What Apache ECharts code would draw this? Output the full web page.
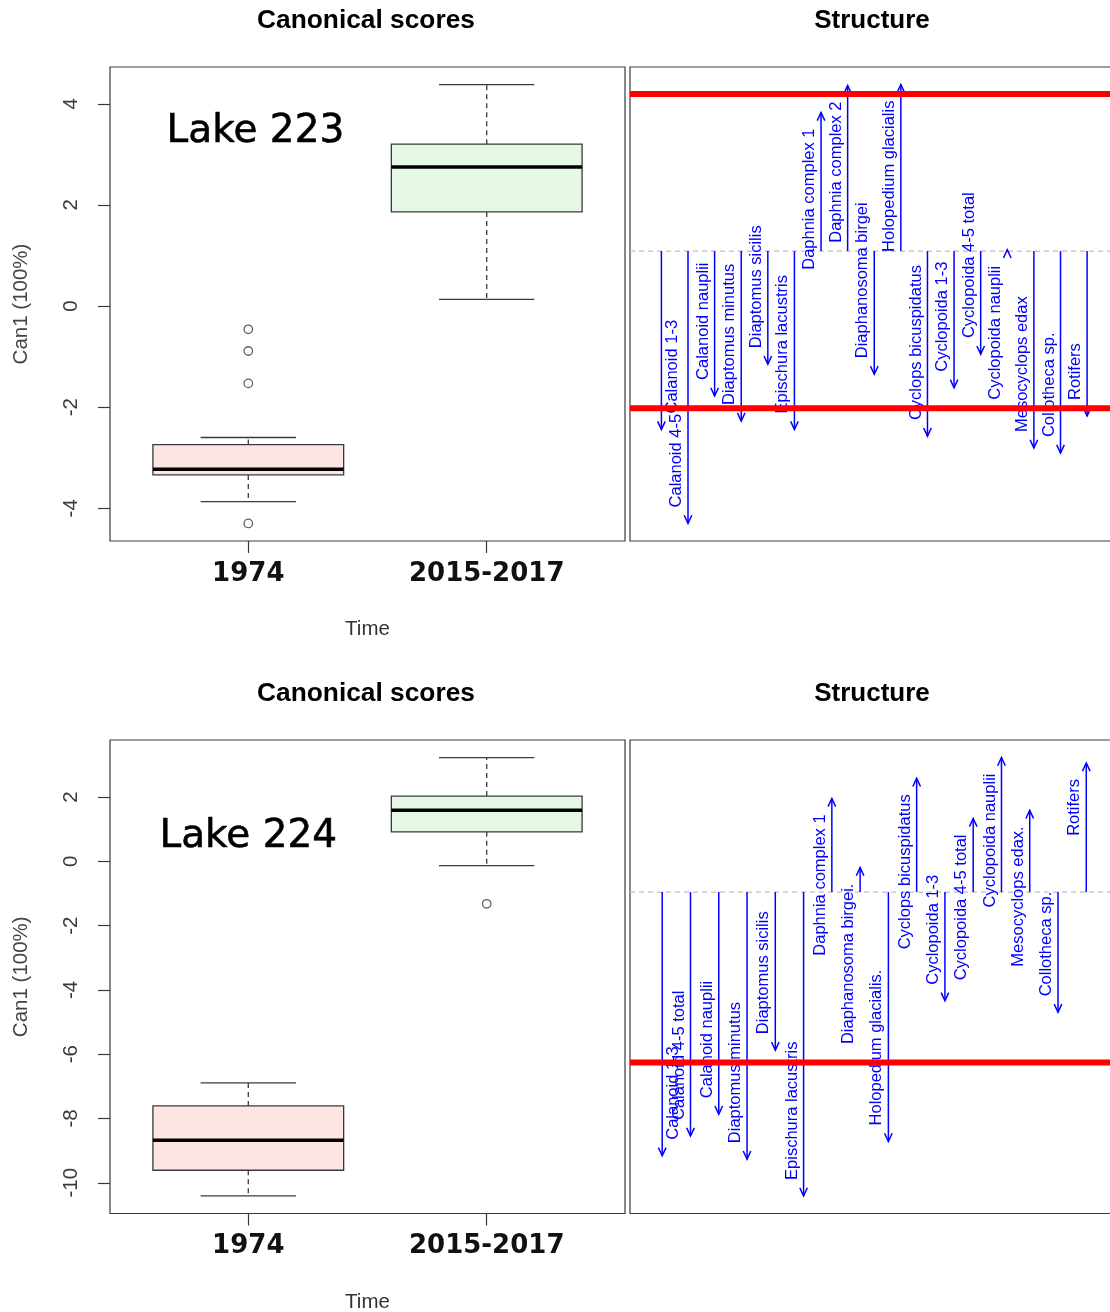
<!DOCTYPE html>
<html>
<head>
<meta charset="utf-8">
<script src="https://cdn.jsdelivr.net/npm/echarts@6/dist/echarts.min.js"></script>
<style>
html,body{margin:0;padding:0;background:#ffffff;}
#chart{width:1110px;height:1312px;}
</style>
</head>
<body>
<div id="chart"></div>
<script>
// ---------------- data ----------------
const groups = ['1974', '2015-2017'];

// Lake 223 canonical scores: [lower whisker, Q1, median, Q3, upper whisker]
const lake223Box = [
  [-3.87, -3.34, -3.23, -2.74, -2.60],
  [0.13, 1.86, 2.75, 3.20, 4.38]
];
const lake223Outliers = [[1, -0.46], [1, -0.89], [1, -1.53], [1, -4.30]];
const lake223Ticks = [-4, -2, 0, 2, 4];

// Lake 224 canonical scores
const lake224Box = [
  [-10.41, -9.61, -8.68, -7.61, -6.89],
  [-0.13, 0.92, 1.59, 2.03, 3.23]
];
const lake224Outliers = [[2, -1.32]];
const lake224Ticks = [-10, -8, -6, -4, -2, 0, 2];

// Structure coefficients
const lake223Taxa = ['Calanoid 1-3', 'Calanoid 4-5', 'Calanoid nauplii', 'Diaptomus minutus',
  'Diaptomus sicilis', 'Epischura lacustris', 'Daphnia complex 1', 'Daphnia complex 2',
  'Diaphanosoma birgei', 'Holopedium glacialis', 'Cyclops bicuspidatus', 'Cyclopoida 1-3',
  'Cyclopoida 4-5 total', 'Cyclopoida nauplii', 'Mesocyclops edax', 'Collotheca sp.', 'Rotifers'];
const lake223Structure = [-0.568, -0.867, -0.461, -0.541, -0.360, -0.568, 0.441, 0.527,
  -0.392, 0.530, -0.589, -0.435, -0.328, 0.004, -0.627, -0.643, -0.525];

const lake224Taxa = ['Calanoid 1-3', 'Calanoid 4-5 total', 'Calanoid nauplii', 'Diaptomus minutus',
  'Diaptomus sicilis', 'Epischura lacustris', 'Daphnia complex 1', 'Diaphanosoma birgei.',
  'Holopedium glacialis.', 'Cyclops bicuspidatus', 'Cyclopoida 1-3', 'Cyclopoida 4-5 total',
  'Cyclopoida nauplii', 'Mesocyclops edax.', 'Collotheca sp.', 'Rotifers'];
const lake224Structure = [-0.774, -0.716, -0.652, -0.784, -0.464, -0.892, 0.275, 0.072,
  -0.732, 0.334, -0.319, 0.216, 0.395, 0.240, -0.353, 0.379];

const thresholds = [-0.5, 0.5];

// ---------------- helpers ----------------
function rRange(vals) {
  const lo = Math.min(...vals), hi = Math.max(...vals);
  const d = (hi - lo) * 0.04;
  return [lo - d, hi + d];
}
const boxFills = ['#FFE4E4', '#E4F8E4'];
const SANS = 'Liberation Sans';

function boxRender(fills) {
  return function (params, api) {
    const x = api.value(0);
    const lo = api.value(1), q1 = api.value(2), med = api.value(3), q3 = api.value(4), hi = api.value(5);
    const c = (xx, yy) => api.coord([xx, yy]);
    const wl = c(x, lo), wq1 = c(x, q1), wq3 = c(x, q3), wh = c(x, hi);
    const capL1 = c(x - 0.2, lo), capR1 = c(x + 0.2, lo);
    const capL2 = c(x - 0.2, hi), capR2 = c(x + 0.2, hi);
    const bTL = c(x - 0.4, q3), bBR = c(x + 0.4, q1);
    const mL = c(x - 0.4, med), mR = c(x + 0.4, med);
    const stroke = '#3a3a3a';
    return {
      type: 'group',
      children: [
        { type: 'line', shape: { x1: wq1[0], y1: wq1[1], x2: wl[0], y2: wl[1] },
          style: { stroke, lineWidth: 1.3, lineDash: [5, 4] } },
        { type: 'line', shape: { x1: wq3[0], y1: wq3[1], x2: wh[0], y2: wh[1] },
          style: { stroke, lineWidth: 1.3, lineDash: [5, 4] } },
        { type: 'line', shape: { x1: capL1[0], y1: capL1[1], x2: capR1[0], y2: capR1[1] },
          style: { stroke, lineWidth: 1.3 } },
        { type: 'line', shape: { x1: capL2[0], y1: capL2[1], x2: capR2[0], y2: capR2[1] },
          style: { stroke, lineWidth: 1.3 } },
        { type: 'rect', shape: { x: bTL[0], y: bTL[1], width: bBR[0] - bTL[0], height: bBR[1] - bTL[1] },
          style: { fill: fills[params.dataIndex], stroke, lineWidth: 1.3 } },
        { type: 'line', shape: { x1: mL[0], y1: mL[1], x2: mR[0], y2: mR[1] },
          style: { stroke: '#000', lineWidth: 3.5 } }
      ]
    };
  };
}

function arrowRender(labels) {
  return function (params, api) {
    const i = params.dataIndex;
    const xv = api.value(0), v = api.value(1);
    const p0 = api.coord([xv, 0]), p1 = api.coord([xv, v]);
    const dir = p1[1] < p0[1] ? -1 : 1; // -1 = pointing up
    const L = 9, a = 25 * Math.PI / 180;
    const hx = L * Math.sin(a), hy = L * Math.cos(a);
    const head = [[p1[0] - hx, p1[1] - dir * hy], [p1[0], p1[1]], [p1[0] + hx, p1[1] - dir * hy]];
    const up = dir < 0;
    const tx = i === 0 ? p1[0] + 20 : p1[0] - 3;
    const ty = p1[1] - dir * 16;
    return {
      type: 'group',
      children: [
        { type: 'line', shape: { x1: p0[0], y1: p0[1], x2: p1[0], y2: p1[1] },
          style: { stroke: '#0000FF', lineWidth: 1.5 } },
        { type: 'polyline', shape: { points: head },
          style: { stroke: '#0000FF', lineWidth: 1.5, fill: 'none' } },
        { type: 'text', x: tx, y: ty, rotation: Math.PI / 2,
          style: { text: labels[i], fill: '#0000FF', fontSize: 16.5, fontFamily: SANS,
                   align: up ? 'right' : 'left', verticalAlign: 'bottom',
                   textAlign: up ? 'right' : 'left', textVerticalAlign: 'bottom' } }
      ]
    };
  };
}

function hlineRender(xr, style) {
  return function (params, api) {
    const v = api.value(1);
    const a = api.coord([xr[0], v]), b = api.coord([xr[1], v]);
    return { type: 'line', shape: { x1: a[0], y1: a[1], x2: b[0], y2: b[1] }, style };
  };
}

// ---------------- layout ----------------
const panels = [
  { top: 67, height: 474, box: lake223Box, out: lake223Outliers, ticks: lake223Ticks, lake: 'Lake 223', lakePos: [1.03, 3.44],
    taxa: lake223Taxa, vals: lake223Structure },
  { top: 740, height: 473.5, box: lake224Box, out: lake224Outliers, ticks: lake224Ticks, lake: 'Lake 224', lakePos: [1.0, 0.76],
    taxa: lake224Taxa, vals: lake224Structure }
];

const grid = [], xAxis = [], yAxis = [], series = [], title = [];
const boxXR = [0.5 - 0.08, 2.5 + 0.08];

panels.forEach((p, k) => {
  const gL = 2 * k, gR = 2 * k + 1;
  grid.push({ left: 110, top: p.top, width: 515, height: p.height, show: true,
    borderColor: '#3a3a3a', borderWidth: 1.2, backgroundColor: 'transparent',
    containLabel: false, outerBoundsMode: 'none' });
  grid.push({ left: 630, top: p.top, width: 488.5, height: p.height, show: true,
    borderColor: '#3a3a3a', borderWidth: 1.2, backgroundColor: 'transparent',
    containLabel: false, outerBoundsMode: 'none' });

  title.push({ text: 'Canonical scores', left: 361, top: 3 + 673 * k, textAlign: 'center',
    textStyle: { fontFamily: SANS, fontWeight: 'bold', fontSize: 26.3, color: '#000' } });
  title.push({ text: 'Structure', left: 867, top: 3 + 673 * k, textAlign: 'center',
    textStyle: { fontFamily: SANS, fontWeight: 'bold', fontSize: 26, color: '#000' } });

  // box plot y range
  const allY = [];
  p.box.forEach(b => allY.push(b[0], b[4]));
  p.out.forEach(o => allY.push(o[1]));
  const yr = rRange(allY);

  xAxis.push({ type: 'value', gridIndex: gL, min: boxXR[0], max: boxXR[1],
    axisLine: { show: false, onZero: false }, splitLine: { show: false },
    axisTick: { show: true, length: 12, customValues: [1, 2], lineStyle: { color: '#3a3a3a', width: 1.2 } },
    axisLabel: { show: true, customValues: [1, 2], formatter: v => groups[Math.round(v) - 1],
      fontFamily: 'DejaVu Sans', fontWeight: 'bold', fontSize: 26, color: '#111', margin: 20 },
    name: 'Time', nameLocation: 'middle', nameGap: 78,
    nameTextStyle: { fontFamily: SANS, fontSize: 20.5, color: '#333' } });
  yAxis.push({ type: 'value', gridIndex: gL, min: yr[0], max: yr[1],
    axisLine: { show: false, onZero: false }, splitLine: { show: false },
    axisTick: { show: true, length: 12, customValues: p.ticks, lineStyle: { color: '#3a3a3a', width: 1.2 } },
    axisLabel: { show: true, customValues: p.ticks, rotate: 90, fontFamily: SANS, fontSize: 20.5,
      color: '#3a3a3a', margin: 28 },
    name: 'Can1 (100%)', nameLocation: 'middle', nameGap: 78, nameRotate: 90,
    nameTextStyle: { fontFamily: SANS, fontSize: 20.5, color: '#444' } });

  // structure ranges
  const n = p.vals.length;
  const sxr = [0.5 - 0.04 * n, n + 0.5 + 0.04 * n];
  const syr = rRange([0, ...p.vals]);
  xAxis.push({ type: 'value', gridIndex: gR, min: sxr[0], max: sxr[1], show: false,
    axisLine: { onZero: false } });
  yAxis.push({ type: 'value', gridIndex: gR, min: syr[0], max: syr[1], show: false,
    axisLine: { onZero: false } });

  series.push({ type: 'custom', xAxisIndex: gL, yAxisIndex: gL, silent: true, z: 2,
    encode: { x: 0, y: [1, 2, 3, 4, 5] },
    data: p.box.map((b, i) => [i + 1, ...b]), renderItem: boxRender(boxFills) });
  series.push({ type: 'scatter', xAxisIndex: gL, yAxisIndex: gL, silent: true, z: 3,
    symbol: 'circle', symbolSize: 8.5,
    itemStyle: { color: 'rgba(255,255,255,0)', borderColor: '#3a3a3a', borderWidth: 1.3 },
    data: p.out });
  series.push({ type: 'scatter', xAxisIndex: gL, yAxisIndex: gL, silent: true, z: 3,
    symbolSize: 0, data: [p.lakePos],
    label: { show: true, position: 'inside', formatter: p.lake, fontFamily: 'DejaVu Sans',
      fontSize: 39, color: '#000', textBorderColor: '#000', textBorderWidth: 0.6, opacity: 1 } });

  series.push({ type: 'custom', xAxisIndex: gR, yAxisIndex: gR, silent: true, z: 1,
    encode: { x: 0, y: 1 }, data: [[sxr[0], 0]],
    renderItem: hlineRender(sxr, { stroke: '#BEBEBE', lineWidth: 1.2, lineDash: [5, 4] }) });
  series.push({ type: 'custom', xAxisIndex: gR, yAxisIndex: gR, silent: true, z: 2,
    encode: { x: 0, y: 1 }, data: p.vals.map((v, i) => [i + 1, v]),
    renderItem: arrowRender(p.taxa) });
  series.push({ type: 'custom', xAxisIndex: gR, yAxisIndex: gR, silent: true, z: 4,
    encode: { x: 0, y: 1 },
    data: thresholds.filter(t => t > syr[0] && t < syr[1]).map(t => [sxr[0], t]),
    renderItem: hlineRender(sxr, { stroke: '#FF0000', lineWidth: 6 }) });
});

const chart = echarts.init(document.getElementById('chart'), null, { renderer: 'canvas' });
chart.setOption({
  animation: false,
  backgroundColor: '#ffffff',
  title, grid, xAxis, yAxis, series
});
</script>
</body>
</html>
